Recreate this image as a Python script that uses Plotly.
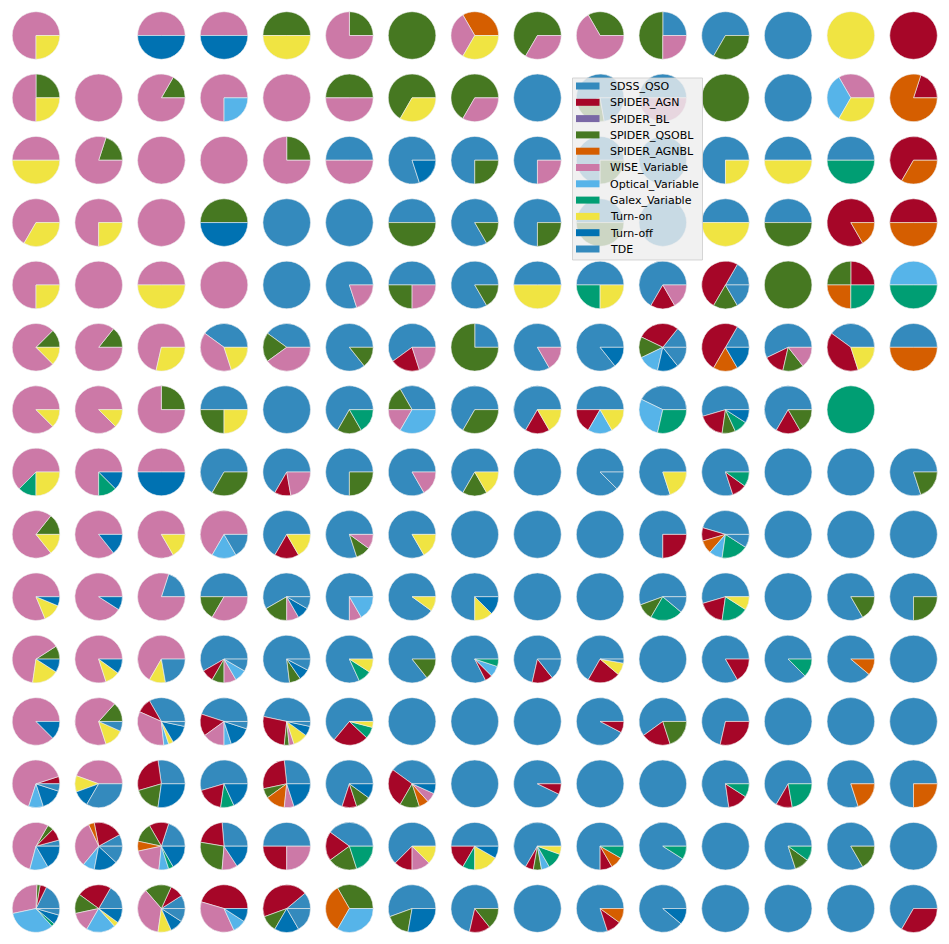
import plotly.graph_objects as go

# ---- categories / colours -------------------------------------------------
keys = ["SDSS", "AGN", "BL", "QSOBL", "AGNBL", "WISE", "OPT", "GALEX", "ON", "OFF", "TDE"]
labels = ["SDSS_QSO", "SPIDER_AGN", "SPIDER_BL", "SPIDER_QSOBL", "SPIDER_AGNBL",
          "WISE_Variable", "Optical_Variable", "Galex_Variable", "Turn-on", "Turn-off", "TDE"]
colors = ["#348ABD", "#A60628", "#7A68A6", "#467821", "#D55E00",
          "#CC79A7", "#56B4E9", "#009E73", "#F0E442", "#0072B2", "#348ABD"]

# ---- counts per pie, one list per grid row (None = empty cell) -------------
row_00 = [dict(WISE=3, ON=1), None, dict(WISE=1, OFF=1), dict(WISE=1, OFF=1), dict(QSOBL=1, ON=1),
          dict(QSOBL=1, WISE=3), dict(QSOBL=1), dict(AGNBL=1, WISE=1, ON=1), dict(QSOBL=2, WISE=1), dict(QSOBL=1, WISE=2),
          dict(SDSS=1, QSOBL=2, WISE=1), dict(SDSS=2, QSOBL=1), dict(SDSS=1), dict(ON=1), dict(AGN=1)]
row_01 = [dict(QSOBL=1, WISE=2, ON=1), dict(WISE=1), dict(QSOBL=1, WISE=5), dict(WISE=3, OPT=1), dict(WISE=1),
          dict(QSOBL=1, WISE=1), dict(QSOBL=2, ON=1), dict(QSOBL=2, WISE=1), dict(SDSS=1), dict(SDSS=5, QSOBL=2, TDE=2),
          dict(SDSS=1, WISE=1), dict(QSOBL=1), dict(SDSS=1), dict(WISE=1, OPT=1, ON=1), dict(AGN=1, AGNBL=4)]
row_02 = [dict(WISE=1, ON=1), dict(QSOBL=1, WISE=4), dict(WISE=1), dict(WISE=1), dict(QSOBL=1, WISE=3),
          dict(SDSS=1, WISE=1), dict(SDSS=4, OFF=1), dict(SDSS=3, QSOBL=1), dict(SDSS=3, WISE=1), dict(SDSS=3, QSOBL=1),
          dict(SDSS=1), dict(SDSS=3, ON=1), dict(SDSS=1, ON=1), dict(SDSS=1, GALEX=1), dict(AGN=2, AGNBL=1)]
row_03 = [dict(WISE=2, ON=1), dict(WISE=3, ON=1), dict(WISE=1), dict(QSOBL=1, OFF=1), dict(SDSS=1),
          dict(SDSS=1), dict(SDSS=1, QSOBL=1), dict(SDSS=5, QSOBL=1), dict(SDSS=3, QSOBL=1), dict(SDSS=1, QSOBL=1),
          dict(SDSS=1), dict(SDSS=1, ON=1), dict(SDSS=1, QSOBL=1), dict(AGN=5, AGNBL=1), dict(AGN=1, AGNBL=1)]
row_04 = [dict(WISE=3, ON=1), dict(WISE=1), dict(WISE=1, ON=1), dict(WISE=1), dict(SDSS=1),
          dict(SDSS=4, WISE=1), dict(SDSS=2, QSOBL=1, WISE=1), dict(SDSS=5, QSOBL=1), dict(SDSS=1, ON=1), dict(SDSS=2, GALEX=1, ON=1),
          dict(SDSS=4, AGN=1, WISE=1), dict(SDSS=1, AGN=3, QSOBL=1, TDE=1), dict(QSOBL=1), dict(AGN=1, QSOBL=1, AGNBL=1, GALEX=1), dict(OPT=1, GALEX=1)]
row_05 = [dict(QSOBL=1, WISE=6, ON=1), dict(QSOBL=1, WISE=6), dict(WISE=5, ON=2), dict(SDSS=2, WISE=2, ON=1), dict(SDSS=2, QSOBL=1, WISE=2),
          dict(SDSS=6, QSOBL=1), dict(SDSS=3, AGN=1, WISE=1), dict(SDSS=1, QSOBL=3), dict(SDSS=5, WISE=1), dict(SDSS=6, OFF=1),
          dict(SDSS=1, AGN=2, QSOBL=1, OPT=1, OFF=1, TDE=1), dict(SDSS=1, AGN=3, AGNBL=1, OFF=1), dict(SDSS=4, AGN=1, QSOBL=1, WISE=1),
          dict(SDSS=2, AGN=2, ON=1), dict(SDSS=1, AGNBL=1)]
row_06 = [dict(WISE=7, ON=1), dict(WISE=7, ON=1), dict(QSOBL=1, WISE=3), dict(SDSS=2, QSOBL=1, ON=1), dict(SDSS=1),
          dict(SDSS=4, QSOBL=1, GALEX=1), dict(SDSS=2, QSOBL=1, WISE=1, OPT=2), dict(SDSS=2, QSOBL=1), dict(SDSS=4, AGN=1, ON=1),
          dict(SDSS=3, AGN=1, OPT=1, ON=1), dict(SDSS=3, OPT=2, GALEX=2), dict(SDSS=6, AGN=2, QSOBL=1, GALEX=1, OFF=1),
          dict(SDSS=4, AGN=1, QSOBL=1), dict(GALEX=1), None]
row_07 = [dict(WISE=5, GALEX=1, ON=2), dict(WISE=6, GALEX=1, OFF=1), dict(WISE=1, OFF=1), dict(SDSS=2, QSOBL=1), dict(SDSS=6, AGN=1, WISE=2),
          dict(SDSS=3, QSOBL=1), dict(SDSS=5, WISE=1), dict(SDSS=4, QSOBL=1, ON=1), dict(SDSS=1), dict(SDSS=7, TDE=1),
          dict(SDSS=4, ON=1), dict(SDSS=8, AGN=1, GALEX=1), dict(SDSS=1), dict(SDSS=1), dict(SDSS=4, QSOBL=1)]
row_08 = [dict(QSOBL=1, WISE=5, ON=1), dict(WISE=6, OFF=1), dict(WISE=5, ON=1), dict(WISE=4, OPT=1, TDE=1), dict(SDSS=4, AGN=1, ON=1),
          dict(SDSS=8, QSOBL=1, WISE=1), dict(SDSS=5, ON=1), dict(SDSS=1), dict(SDSS=1), dict(SDSS=1),
          dict(SDSS=3, AGN=1), dict(SDSS=5, AGN=1, AGNBL=1, OPT=1, GALEX=2, TDE=1), dict(SDSS=1), dict(SDSS=1), dict(SDSS=1)]
row_09 = [dict(WISE=13, ON=2, OFF=1), dict(WISE=10, OFF=1), dict(SDSS=1, WISE=4), dict(SDSS=3, QSOBL=1, WISE=2),
          dict(SDSS=7, QSOBL=2, WISE=1, OFF=1, TDE=1),
          dict(SDSS=9, WISE=1, OPT=2), dict(SDSS=9, ON=1), dict(SDSS=6, ON=1, OFF=1), dict(SDSS=1), dict(SDSS=1),
          dict(SDSS=5, QSOBL=1, GALEX=2, TDE=1), dict(SDSS=6, AGN=2, GALEX=2, ON=1), dict(SDSS=1), dict(SDSS=5, QSOBL=1), dict(SDSS=3, QSOBL=1)]
row_10 = [dict(QSOBL=1, WISE=7, ON=2, OFF=1), dict(WISE=8, ON=1, OFF=1), dict(WISE=6, ON=1, TDE=2),
          dict(SDSS=7, AGN=1, QSOBL=1, WISE=1, OPT=1, TDE=1), dict(SDSS=10, QSOBL=1, OFF=1, TDE=1),
          dict(SDSS=9, GALEX=1, ON=1), dict(SDSS=6, QSOBL=1), dict(SDSS=33, AGN=2, OPT=3, GALEX=2), dict(SDSS=5, AGN=1, TDE=1),
          dict(SDSS=24, AGN=8, ON=3, TDE=1),
          dict(SDSS=1), dict(SDSS=5, AGN=1), dict(SDSS=7, GALEX=1), dict(SDSS=8, AGNBL=1), dict(SDSS=1)]
row_11 = [dict(WISE=7, OFF=1), dict(QSOBL=2, WISE=10, ON=2, TDE=1), dict(SDSS=10, AGN=3, WISE=10, OPT=1, ON=1, OFF=4, TDE=1),
          dict(SDSS=9, AGN=3, WISE=3, OPT=1, OFF=3, TDE=1), dict(SDSS=14, AGN=8, QSOBL=1, WISE=1, ON=3, OFF=2, TDE=1),
          dict(SDSS=16, AGN=6, GALEX=2, ON=1), dict(SDSS=1), dict(SDSS=1), dict(SDSS=1), dict(SDSS=12, AGN=1),
          dict(SDSS=3, AGN=1, QSOBL=1), dict(SDSS=5, AGN=2), dict(SDSS=1), dict(SDSS=1), dict(SDSS=1)]
row_12 = [dict(AGN=1, WISE=13, OPT=2, OFF=3, TDE=1), dict(WISE=4, ON=1, OFF=1, TDE=3), dict(SDSS=3, AGN=3, QSOBL=2, OFF=3),
          dict(SDSS=6, AGN=2, GALEX=1, OFF=2), dict(SDSS=4, AGN=4, QSOBL=1, AGNBL=2, WISE=1, OFF=3),
          dict(SDSS=7, AGN=1, QSOBL=1, OFF=1), dict(SDSS=6, AGN=4, QSOBL=2, AGNBL=1, WISE=1, OFF=1), dict(SDSS=1),
          dict(SDSS=13, AGN=1), dict(SDSS=1),
          dict(SDSS=1), dict(SDSS=17, AGN=3, GALEX=2), dict(SDSS=6, AGN=1, GALEX=2), dict(SDSS=4, AGNBL=1), dict(SDSS=3, AGNBL=1)]
row_13 = [dict(SDSS=1, AGN=2, QSOBL=1, WISE=13, OPT=3, OFF=4), dict(SDSS=2, AGN=5, AGNBL=1, WISE=8, OPT=2, OFF=4, TDE=3),
          dict(SDSS=6, AGN=4, QSOBL=4, AGNBL=2, WISE=6, OPT=2, GALEX=1, OFF=5), dict(SDSS=5, AGN=4, QSOBL=5, WISE=2, OFF=3),
          dict(SDSS=2, AGN=1, WISE=1),
          dict(SDSS=2, AGN=1, QSOBL=1, GALEX=1), dict(SDSS=5, AGN=1, WISE=1, ON=1), dict(SDSS=6, AGN=2, GALEX=1, ON=2, OFF=1),
          dict(SDSS=12, AGN=1, QSOBL=1, OPT=1, GALEX=2, ON=1), dict(SDSS=9, AGN=1, AGNBL=1, GALEX=1),
          dict(SDSS=10, GALEX=1), dict(SDSS=1), dict(SDSS=8, QSOBL=1, GALEX=1), dict(SDSS=5, QSOBL=1), dict(SDSS=1)]
row_14 = [dict(SDSS=8, AGN=2, QSOBL=1, WISE=13, OPT=15, GALEX=1, OFF=3, TDE=2),
          dict(SDSS=5, AGN=7, QSOBL=4, WISE=4, OPT=6, ON=1, OFF=3),
          dict(SDSS=1, AGN=1, QSOBL=2, WISE=4, ON=1, OFF=1, TDE=1), dict(AGN=5, WISE=4, OPT=1, OFF=1),
          dict(SDSS=2, AGN=8, QSOBL=2, OFF=3, TDE=3),
          dict(QSOBL=1, AGNBL=1, OPT=1), dict(SDSS=10, QSOBL=3, OFF=5), dict(SDSS=5, AGN=1, QSOBL=1), dict(SDSS=1),
          dict(SDSS=8, AGN=1, AGNBL=1),
          dict(SDSS=8, OFF=1), dict(SDSS=1), dict(SDSS=1), dict(SDSS=1), dict(SDSS=2, AGN=1)]

rows = [row_00, row_01, row_02, row_03, row_04, row_05, row_06, row_07,
        row_08, row_09, row_10, row_11, row_12, row_13, row_14]

# ---- layout geometry (pixels) ----------------------------------------------
W, H = 949, 944
X0, DX = 36.0, 62.68
Y0, DY = 35.5, 62.36
R = 23.8

fig = go.Figure()
for r, row in enumerate(rows):
    for c, pie in enumerate(row):
        if pie is None:
            continue
        vals = [pie.get(k, 0) for k in keys]
        total = float(sum(vals))
        # plotly places the first slice clockwise of `rotation` when counterclockwise;
        # shift so wedges start at 3 o'clock and run counterclockwise (matplotlib style)
        rot = 90 - 360.0 * vals[0] / total
        cx = X0 + c * DX
        cy = Y0 + r * DY
        fig.add_trace(go.Pie(
            labels=labels,
            values=vals,
            sort=False,
            direction="counterclockwise",
            rotation=rot,
            textinfo="none",
            hoverinfo="label+value+percent",
            marker=dict(colors=colors,
                        line=dict(color="#eeeeee", width=[0.6 if v > 0 else 0 for v in vals])),
            domain=dict(x=[(cx - R) / W, (cx + R) / W],
                        y=[1 - (cy + R) / H, 1 - (cy - R) / H]),
            showlegend=False,
        ))

# ---- legend (drawn in the matplotlib style: box, 24x7 patches, labels) -----
LX0, LX1, LY0, LY1 = 572.5, 702.5, 78.0, 260.0
PX0, PX1, PH = 576.0, 599.5, 7.0
TY0, TDY = 86.0, 16.3
TX = 607.5

shapes = [dict(type="rect", xref="paper", yref="paper", layer="above",
               x0=LX0 / W, x1=LX1 / W, y0=1 - LY1 / H, y1=1 - LY0 / H,
               fillcolor="rgba(238,238,238,0.8)", line=dict(color="rgba(204,204,204,0.8)", width=1))]
annotations = []
for i, (lab, col) in enumerate(zip(labels, colors)):
    yc = TY0 + i * TDY
    shapes.append(dict(type="rect", xref="paper", yref="paper", layer="above",
                       x0=PX0 / W, x1=PX1 / W, y0=1 - (yc + PH / 2) / H, y1=1 - (yc - PH / 2) / H,
                       fillcolor=col, line=dict(width=0)))
    annotations.append(dict(text=lab, xref="paper", yref="paper", x=TX / W, y=1 - (yc + 0.5) / H,
                            xanchor="left", yanchor="middle", showarrow=False,
                            font=dict(family="DejaVu Sans", size=11, color="black")))

fig.update_layout(
    width=W, height=H,
    margin=dict(l=0, r=0, t=0, b=0),
    paper_bgcolor="white",
    plot_bgcolor="white",
    font=dict(family="DejaVu Sans", size=11, color="black"),
    showlegend=False,
    shapes=shapes,
    annotations=annotations,
)

fig.write_html("out.html")
